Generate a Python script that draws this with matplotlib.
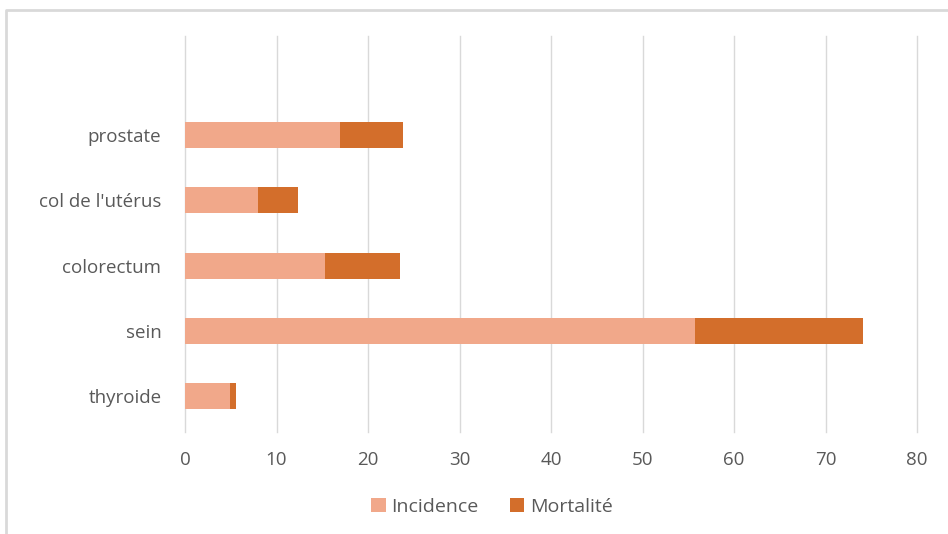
import matplotlib.pyplot as plt
from matplotlib.lines import Line2D

categories = ["thyroide", "sein", "colorectum", "col de l'utérus", "prostate"]
incidence = [4.9, 55.7, 15.3, 8.0, 16.9]
mortalite = [0.7, 18.4, 8.2, 4.4, 6.9]

plt.rcParams["font.family"] = ["Open Sans", "DejaVu Sans"]

fig = plt.figure(figsize=(9.48, 5.34), dpi=100)
ax = fig.add_axes([185 / 948, 1 - 432 / 534, (917 - 185) / 948, (432 - 36) / 534])

# outer chart frame (only top and left edges are visible in the crop)
fig.lines.append(Line2D([6 / 948, 6 / 948, 1.0], [0.0, 1 - 10 / 534, 1 - 10 / 534],
                        transform=fig.transFigure, color="#d9d9d9", linewidth=2))

y = list(range(len(categories)))
ax.barh(y, incidence, height=0.4, color="#f1a88a", label="Incidence", zorder=3)
ax.barh(y, mortalite, left=incidence, height=0.4, color="#d36e2b", label="Mortalité", zorder=3)

ax.set_xlim(0, 80)
ax.set_ylim(-0.55, 5.52)
ax.set_xticks(range(0, 81, 10))
ax.set_yticks(y)
ax.set_yticklabels(categories)
ax.grid(True, axis="x", color="#d9d9d9", linewidth=1, zorder=0)
for gl in ax.get_xgridlines():
    gl.set_clip_on(False)
for s in ax.spines.values():
    s.set_visible(False)
ax.tick_params(length=0, labelsize=13.5, colors="#595959")
ax.tick_params(axis="x", pad=14)
ax.tick_params(axis="y", pad=17)

ax.legend(loc="center", bbox_to_anchor=(492 / 948, 1 - 507 / 534), bbox_transform=fig.transFigure,
          ncol=2, frameon=False, fontsize=14, labelcolor="#595959",
          handlelength=0.75, handleheight=0.75, handletextpad=0.3, columnspacing=1.6)

fig.savefig("out.png", dpi=100)
